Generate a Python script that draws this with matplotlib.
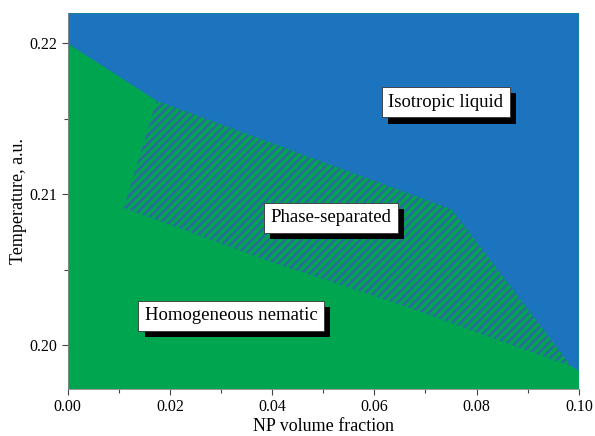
import matplotlib.pyplot as plt
import matplotlib.patheffects as pe
from matplotlib.ticker import MultipleLocator

plt.rcParams['font.family'] = ['Liberation Serif', 'DejaVu Serif']
plt.rcParams['hatch.linewidth'] = 1.8

# phase boundaries (NP volume fraction, temperature)
upper_x = [0.0, 0.0174, 0.0751, 0.0985, 0.100]
upper_t = [0.2200, 0.2162, 0.2090, 0.1986, 0.1983]

lower_x = [0.0110, 0.0400, 0.0650, 0.0985, 0.100]
lower_t = [0.2091, 0.2055, 0.2027, 0.1986, 0.1981]

labels = ["Isotropic liquid", "Phase-separated", "Homogeneous nematic"]
label_x = [0.074, 0.0515, 0.032]
label_t = [0.2161, 0.20845, 0.20196]

xmin, xmax = 0.0, 0.1
tmin, tmax = 0.1971, 0.2220

green = '#00a550'
blue = '#1b74bd'
stripe = '#2b6a9c'

fig = plt.figure(figsize=(5.95, 4.36), dpi=100)
ax = fig.add_axes([0.1138, 0.108, 0.859, 0.8615])
ax.set_facecolor(green)

# isotropic region: everything above the upper line
ax.fill(upper_x + [xmax, xmin], upper_t + [tmax, tmax], color=blue, lw=0)

# two-phase region, hatched, between the two lines
ph_x = [lower_x[0]] + upper_x[1:4] + lower_x[1:3][::-1]
ph_t = [lower_t[0]] + upper_t[1:4] + lower_t[1:3][::-1]
ax.fill(ph_x, ph_t, color=blue, lw=0)
ax.fill(ph_x, ph_t, facecolor=green, edgecolor=stripe, hatch='////', lw=0)

for txt, x, t in zip(labels, label_x, label_t):
    tx = ax.text(x, t, txt, ha='center', va='center', fontsize=13.5,
                 bbox=dict(boxstyle='square,pad=0.35', fc='white', ec='#333333', lw=0.6))
    tx.get_bbox_patch().set_path_effects(
        [pe.SimplePatchShadow(offset=(4.5, -4.5), shadow_rgbFace='black', alpha=1.0), pe.Normal()])

ax.set_xlim(xmin, xmax)
ax.set_ylim(tmin, tmax)
ax.xaxis.set_major_locator(MultipleLocator(0.02))
ax.xaxis.set_minor_locator(MultipleLocator(0.01))
ax.yaxis.set_major_locator(MultipleLocator(0.01))
ax.yaxis.set_minor_locator(MultipleLocator(0.005))
ax.xaxis.set_major_formatter('{x:.2f}')
ax.yaxis.set_major_formatter('{x:.2f}')
ax.tick_params(which='both', direction='out', labelsize=11.5, color='#444444', width=0.8)
ax.tick_params(which='major', length=4)
ax.tick_params(which='minor', length=3)
for side in ['top', 'right']:
    ax.spines[side].set_visible(False)
for side in ['left', 'bottom']:
    ax.spines[side].set_color('#888888')
    ax.spines[side].set_linewidth(0.6)

ax.set_xlabel("NP volume fraction", fontsize=13, labelpad=2)
ax.set_ylabel("Temperature, a.u.", fontsize=13, labelpad=2)

fig.savefig('out.png', dpi=100)
